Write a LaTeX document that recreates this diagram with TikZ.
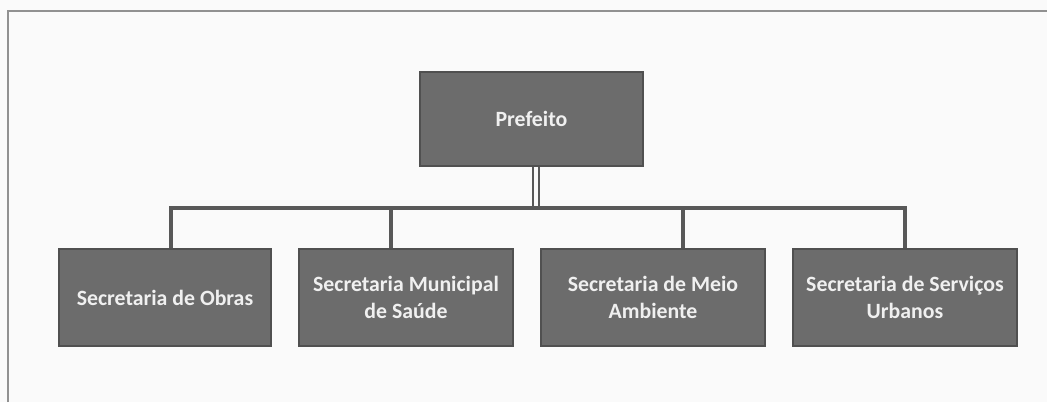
\documentclass[tikz,border=0pt]{standalone}
\usepackage{fontspec}
\setmainfont{Carlito}
\begin{document}
\begin{tikzpicture}[x=1pt,y=-1pt,
  orgbox/.style={draw=boxedge,line width=1.4pt,fill=boxfill,text=textclr,align=center,
    inner sep=0pt,font=\fontsize{21.8}{27.5}\selectfont\bfseries},
  conn/.style={draw=lineclr,line width=3.4pt},
  thin/.style={draw=lineclr,line width=2pt}]
\definecolor{boxfill}{RGB}{108,108,108}
\definecolor{boxedge}{RGB}{80,80,80}
\definecolor{lineclr}{RGB}{88,88,88}
\definecolor{frameclr}{RGB}{145,145,145}
\definecolor{textclr}{RGB}{240,240,240}
\definecolor{paper}{RGB}{250,250,250}
\fill[paper] (0,0) rectangle (1047,402);
\useasboundingbox (0,0) rectangle (1047,402);
\draw[frameclr,line width=2pt] (8,402) -- (8,11) -- (1047,11);
\node[orgbox,minimum width=223pt,minimum height=94pt] (pref) at (531.5,119) {Prefeito};
\node[orgbox,minimum width=212pt,minimum height=97pt] (s1) at (165,297.5) {Secretaria de Obras};
\node[orgbox,minimum width=214pt,minimum height=97pt] (s2) at (406,297.5) {Secretaria Municipal\\de Saúde};
\node[orgbox,minimum width=224pt,minimum height=97pt] (s3) at (653,297.5) {Secretaria de Meio\\Ambiente};
\node[orgbox,minimum width=224pt,minimum height=97pt] (s4) at (905,297.5) {Secretaria de Serviços\\Urbanos};
\coordinate (b1) at (171,208);
\coordinate (b2) at (391,208);
\coordinate (b3) at (683,208);
\coordinate (b4) at (905,208);
\coordinate (pl) at (533,208);
\coordinate (pr) at (539,208);
\draw[conn] ([xshift=-1.7pt]b1) -- ([xshift=1.7pt]b4);
\draw[thin] (pref.south -| pl) -- (pl);
\draw[thin] (pref.south -| pr) -- (pr);
\draw[conn] ([yshift=-1.7pt]b1) -- (b1 |- s1.north);
\draw[conn] ([yshift=-1.7pt]b2) -- (b2 |- s2.north);
\draw[conn] ([yshift=-1.7pt]b3) -- (b3 |- s3.north);
\draw[conn] ([yshift=-1.7pt]b4) -- (b4 |- s4.north);
\end{tikzpicture}
\end{document}
